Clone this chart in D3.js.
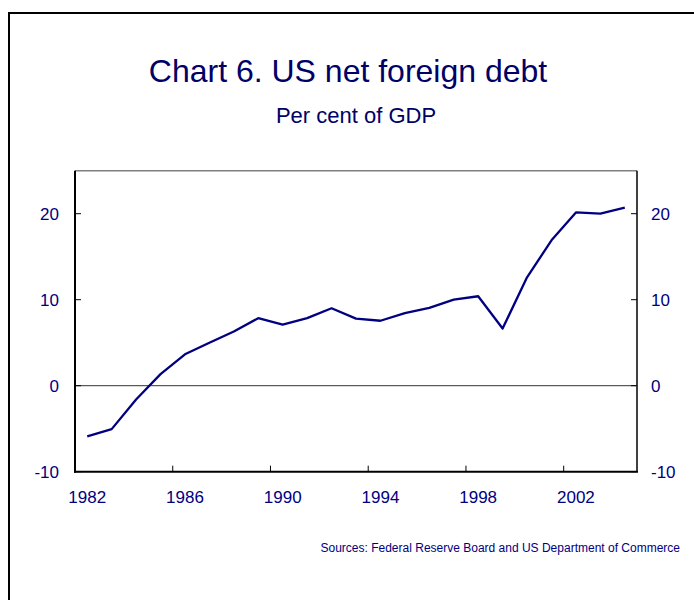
<!DOCTYPE html>
<html><head><meta charset="utf-8">
<script src="https://cdn.jsdelivr.net/npm/d3@7"></script>
<style>
html,body{margin:0;padding:0;background:#fff;}
svg{display:block;font-family:"Liberation Sans",Arial,sans-serif;}
</style></head>
<body>
<svg id="c" width="694" height="600"></svg>
<script>
const years = [1982,1983,1984,1985,1986,1987,1988,1989,1990,1991,1992,1993,1994,1995,1996,1997,1998,1999,2000,2001,2002,2003,2004];
const debt = [-5.9,-5.05,-1.6,1.35,3.65,5.0,6.3,7.85,7.1,7.85,9.0,7.8,7.55,8.45,9.05,10.0,10.4,6.65,12.6,16.9,20.15,20.0,20.7];
const yTicks = [-10,0,10,20];
const xLabelYears = [1982,1986,1990,1994,1998,2002];
const title = "Chart 6. US net foreign debt";
const subtitle = "Per cent of GDP";
const source = "Sources: Federal Reserve Board and US Department of Commerce";

const navy = "#000080";
const svg = d3.select("#c");
const L = 75, R = 637, T = 170.7, B = 471.7;

const x = d3.scaleBand().domain(years).range([L, R]).padding(0);
const y = d3.scaleLinear().domain([-10, 25]).range([B, T]);

// outer frame
svg.append("path").attr("d", `M9,605 V13 H700`).attr("fill","none").attr("stroke","#000").attr("stroke-width",2);

// titles
svg.append("text").attr("x",348).attr("y",82).attr("text-anchor","middle")
  .attr("font-size",32).attr("fill","#000066").text(title);
svg.append("text").attr("x",356).attr("y",123).attr("text-anchor","middle")
  .attr("font-size",22).attr("fill","#000066").text(subtitle);

// plot frame
svg.append("line").attr("x1",L).attr("x2",R).attr("y1",T).attr("y2",T).attr("stroke","#808080").attr("stroke-width",1.5);
svg.append("line").attr("x1",R).attr("x2",R).attr("y1",T).attr("y2",B).attr("stroke","#000").attr("stroke-width",1.5);
// zero line
svg.append("line").attr("x1",L).attr("x2",R).attr("y1",y(0)).attr("y2",y(0)).attr("stroke","#333").attr("stroke-width",1);

// y ticks (inward, both sides)
const yt = svg.append("g");
yTicks.forEach(v => {
  yt.append("line").attr("x1",L).attr("x2",L+6).attr("y1",y(v)).attr("y2",y(v)).attr("stroke","#000");
  yt.append("line").attr("x1",R-6).attr("x2",R).attr("y1",y(v)).attr("y2",y(v)).attr("stroke","#000");
  yt.append("text").attr("x",59).attr("y",y(v)).attr("dy","0.35em").attr("text-anchor","end")
    .attr("font-size",17).attr("fill",navy).text(v);
  yt.append("text").attr("x",651).attr("y",y(v)).attr("dy","0.35em").attr("text-anchor","start")
    .attr("font-size",17).attr("fill",navy).text(v);
});

// x ticks at category boundaries
const xt = svg.append("g");
years.filter(d => (d-1982)%4===0 && d>1982).forEach(d => {
  xt.append("line").attr("x1",x(d)).attr("x2",x(d)).attr("y1",B).attr("y2",B-6).attr("stroke","#000");
});
xLabelYears.forEach(d => {
  xt.append("text").attr("x",x(d)+x.bandwidth()/2).attr("y",503).attr("text-anchor","middle")
    .attr("font-size",17).attr("fill",navy).text(d);
});

// left & bottom axis lines
svg.append("line").attr("x1",L).attr("x2",L).attr("y1",T).attr("y2",B+1).attr("stroke","#000").attr("stroke-width",2);
svg.append("line").attr("x1",L-1).attr("x2",R+1).attr("y1",B).attr("y2",B).attr("stroke","#000").attr("stroke-width",2);

// line
const line = d3.line().x((d,i)=>x(years[i])+x.bandwidth()/2).y(d=>y(d));
svg.append("path").datum(debt).attr("d",line).attr("fill","none").attr("stroke",navy)
  .attr("stroke-width",2.3).attr("stroke-linejoin","round");

// source
svg.append("text").attr("x",680).attr("y",552).attr("text-anchor","end")
  .attr("font-size",12).attr("fill",navy).text(source);
</script>
</body></html>
